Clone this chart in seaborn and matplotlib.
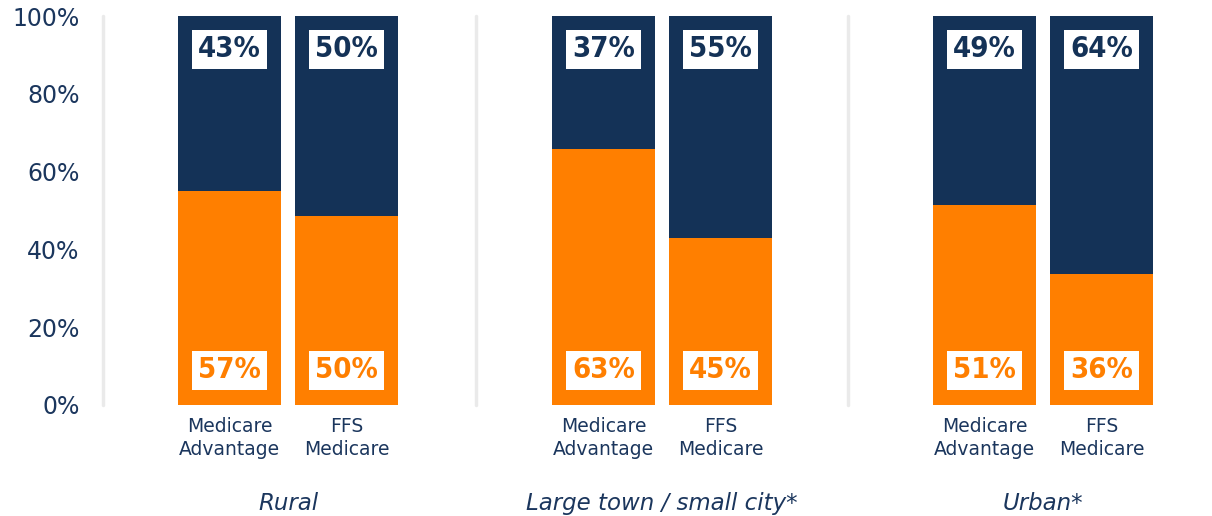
import os
import numpy as np
import pandas as pd
import seaborn as sns
import matplotlib
matplotlib.use("Agg")
import matplotlib.pyplot as plt
from matplotlib import font_manager
from matplotlib.font_manager import FontProperties
from matplotlib.transforms import blended_transform_factory

# ---------------- data ----------------
groups = ["Rural", "Large town / small city*", "Urban*"]
plans = ["Medicare\nAdvantage", "FFS\nMedicare"]
orange_share = [55.0, 48.6, 65.8, 42.9, 51.4, 33.7]   # bar heights (%)
navy_share = [45.0, 51.4, 34.2, 57.1, 48.6, 66.3]     # bar heights (%)
orange_labels = ["57%", "50%", "63%", "45%", "51%", "36%"]
navy_labels = ["43%", "50%", "37%", "55%", "49%", "64%"]
y_ticks = [0, 20, 40, 60, 80, 100]
y_tick_labels = ["0%", "20%", "40%", "60%", "80%", "100%"]

# ---------------- style ----------------
NAVY = "#143257"
ORANGE = "#FF7F00"
TEXT = "#1B365D"
GRID = "#EAEAEA"

sns.set_theme(style="white")
plt.rcParams["font.family"] = ["DejaVu Sans"]

# find a narrow, heavy face for the value labels (Impact-like)
files = [f.fname for f in font_manager.fontManager.ttflist]
prefs = ["NotoSans-ExtraCondensedBlack", "NotoSans-ExtraCondensedExtraBold",
         "NotoSans-ExtraCondensedBold", "NotoSans-CondensedBlack",
         "NotoSans-CondensedBold", "LiberationSansNarrow-Bold",
         "DejaVuSansCondensed-Bold"]
label_fp = None
chosen = None
for p in prefs:
    hits = [f for f in files if os.path.basename(f).startswith(p + ".")]
    if hits:
        chosen = p
        label_fp = FontProperties(fname=hits[0])
        break
if label_fp is None:
    label_fp = FontProperties(family="DejaVu Sans", weight="bold", stretch="condensed")
print("label font:", chosen)

# layout (pixel-like units on x)
group_centers = [288, 662, 1043]
bar_step = 117
bar_w = 103
group_edges = [103, 476, 848]

positions = []
for c in group_centers:
    positions += [c - bar_step / 2, c + bar_step / 2]

df = pd.DataFrame({
    "pos": positions,
    "orange": orange_share,
    "total": np.array(orange_share) + np.array(navy_share),
})

fig = plt.figure(figsize=(12.12, 5.16), dpi=100)
ax = fig.add_axes([103 / 1212, (516 - 405) / 516, (1212 - 103) / 1212, 389 / 516])

sns.barplot(data=df, x="pos", y="total", native_scale=True, width=bar_w / bar_step,
            color=NAVY, saturation=1, linewidth=0, errorbar=None, ax=ax)
sns.barplot(data=df, x="pos", y="orange", native_scale=True, width=bar_w / bar_step,
            color=ORANGE, saturation=1, linewidth=0, errorbar=None, ax=ax)

ax.set_xlim(103, 1212)
ax.set_ylim(0, 100)
for e in group_edges:
    ax.axvline(e, color=GRID, lw=2.5, zorder=0, clip_on=False)

for s in ax.spines.values():
    s.set_visible(False)

ax.set_yticks(y_ticks)
ax.set_yticklabels(y_tick_labels, fontsize=17, color=TEXT)
ax.set_xticks(positions)
ax.set_xticklabels(plans * len(groups), fontsize=13.5, color=TEXT, linespacing=1.25)
ax.tick_params(axis="y", length=0, pad=17)
ax.tick_params(axis="x", length=0, pad=9)
ax.set_xlabel("")
ax.set_ylabel("")

# value labels
fsize = 24 if chosen and "Noto" in chosen else 21
label_fp.set_size(fsize)
for p, nl, ol in zip(positions, navy_labels, orange_labels):
    ax.text(p, 91.4, nl, ha="center", va="center", fontproperties=label_fp, color=NAVY,
            bbox=dict(boxstyle="square,pad=0.2", fc="white", ec="none"))
    ax.text(p, 8.9, ol, ha="center", va="center", fontproperties=label_fp, color=ORANGE,
            bbox=dict(boxstyle="square,pad=0.2", fc="white", ec="none"))

# group labels
trans = blended_transform_factory(ax.transData, ax.transAxes)
for c, g in zip(group_centers, groups):
    ax.text(c, -0.252, g, transform=trans, ha="center", va="center",
            fontsize=16.5, style="italic", color=TEXT)

fig.savefig("out.png", dpi=100)
